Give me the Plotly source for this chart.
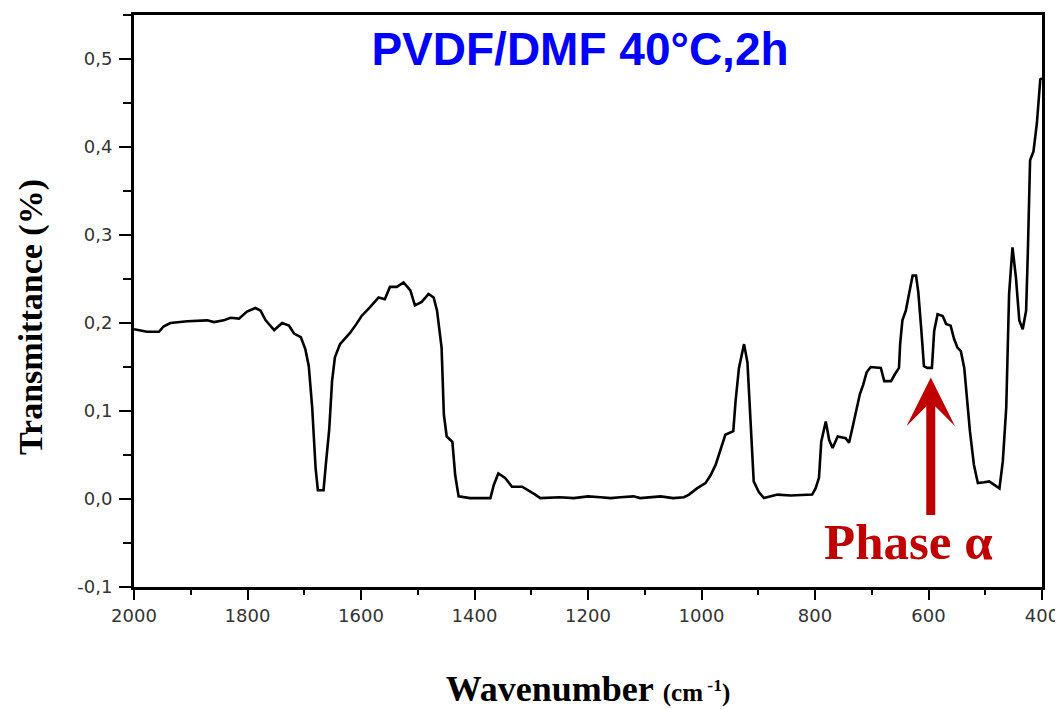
import plotly.graph_objects as go

wavenumber = [
    2000, 1977, 1956, 1948, 1936, 1906, 1871, 1859, 1842, 1830,
    1815, 1801, 1786, 1777, 1768, 1753, 1739, 1727, 1718, 1706,
    1698, 1692, 1686, 1680, 1676, 1666, 1662, 1656, 1651, 1646,
    1637, 1631, 1619, 1608, 1599, 1584, 1569, 1558, 1549, 1537,
    1525, 1513, 1505, 1493, 1481, 1472, 1466, 1458, 1454, 1449,
    1439, 1434, 1428, 1408, 1372, 1366, 1358, 1346, 1334, 1316,
    1305, 1293, 1284, 1250, 1225, 1200, 1178, 1160, 1143, 1120,
    1108, 1080, 1072, 1050, 1031, 1022, 1008, 993, 984, 975,
    966, 958, 944, 940, 934, 928, 925, 919, 913, 908,
    899, 890, 866, 843, 805, 799, 793, 789, 781, 775,
    769, 760, 746, 740, 734, 726, 721, 715, 709, 702,
    684, 678, 666, 659, 652, 650, 646, 640, 634, 628,
    622, 618, 613, 608, 602, 594, 590, 584, 575, 569,
    561, 555, 549, 543, 537, 532, 527, 520, 513, 502,
    493, 484, 475, 469, 463, 458, 452, 446, 440, 434,
    428, 425, 421, 415, 409, 403, 400,
]

transmittance = [
    0.193, 0.190, 0.190, 0.196, 0.200, 0.202, 0.203, 0.201, 0.203, 0.206,
    0.205, 0.213, 0.217, 0.214, 0.203, 0.192, 0.200, 0.197, 0.188, 0.184,
    0.170, 0.151, 0.104, 0.035, 0.010, 0.010, 0.039, 0.079, 0.134, 0.161,
    0.176, 0.180, 0.189, 0.199, 0.208, 0.218, 0.229, 0.227, 0.241, 0.241,
    0.246, 0.237, 0.220, 0.224, 0.233, 0.229, 0.214, 0.172, 0.096, 0.071,
    0.065, 0.027, 0.003, 0.001, 0.001, 0.016, 0.029, 0.024, 0.014, 0.014,
    0.010, 0.005, 0.001, 0.002, 0.001, 0.003, 0.002, 0.001, 0.002, 0.003,
    0.001, 0.002, 0.003, 0.001, 0.002, 0.005, 0.012, 0.018, 0.027, 0.039,
    0.058, 0.073, 0.077, 0.111, 0.149, 0.165, 0.176, 0.155, 0.077, 0.020,
    0.008, 0.001, 0.005, 0.004, 0.005, 0.012, 0.024, 0.065, 0.088, 0.067,
    0.058, 0.071, 0.069, 0.064, 0.081, 0.104, 0.119, 0.130, 0.144, 0.150,
    0.149, 0.134, 0.134, 0.142, 0.149, 0.176, 0.203, 0.214, 0.235, 0.254,
    0.254, 0.235, 0.195, 0.151, 0.149, 0.149, 0.191, 0.210, 0.208, 0.199,
    0.197, 0.182, 0.172, 0.168, 0.149, 0.111, 0.077, 0.039, 0.018, 0.019,
    0.020, 0.016, 0.012, 0.043, 0.104, 0.233, 0.286, 0.252, 0.203, 0.193,
    0.214, 0.279, 0.385, 0.395, 0.427, 0.477, 0.478,
]

x_tick_vals = [2000, 1800, 1600, 1400, 1200, 1000, 800, 600, 400]
x_tick_text = ["2000", "1800", "1600", "1400", "1200", "1000", "800", "600", "400"]
y_tick_vals = [-0.1, 0.0, 0.1, 0.2, 0.3, 0.4, 0.5]
y_tick_text = ["-0,1", "0,0", "0,1", "0,2", "0,3", "0,4", "0,5"]

title_text = "PVDF/DMF 40°C,2h"
y_title = "Transmittance (%)"
phase_label = "Phase α"
phase_x, phase_y = 635, -0.049
arrow_x, arrow_tip, arrow_tail = 596, 0.138, -0.020

fig = go.Figure()
fig.add_trace(go.Scatter(
    x=wavenumber, y=transmittance, mode="lines",
    line=dict(color="black", width=2.6), showlegend=False,
))

tick_font = dict(family="DejaVu Sans", size=18, color="#333333")
axis_common = dict(
    showline=True, linecolor="black", linewidth=3, mirror=True,
    showgrid=False, zeroline=False, ticks="outside", tickcolor="black",
    tickwidth=2, tickfont=tick_font,
)

fig.update_xaxes(
    range=[2000, 400], tickvals=x_tick_vals, ticktext=x_tick_text,
    ticklen=10,
    minor=dict(dtick=100, ticks="outside", ticklen=5, tickwidth=2, tickcolor="black"),
    title=dict(
        text="<b>Wavenumber</b> <b><span style='font-size:25px'>(cm<sup> -1</sup>)</span></b>",
        font=dict(family="Liberation Serif", size=36, color="black"),
        standoff=52,
    ),
    **axis_common,
)
fig.update_yaxes(
    range=[-0.1, 0.55], tickvals=y_tick_vals, ticktext=y_tick_text,
    ticklen=12, ticklabelstandoff=3,
    minor=dict(dtick=0.05, tick0=0, ticks="outside", ticklen=8, tickwidth=2, tickcolor="black"),
    **axis_common,
)

fig.add_annotation(
    x=-0.1134, y=0.472, xref="paper", yref="paper",
    text="<b>" + y_title + "</b>", textangle=-90, showarrow=False,
    font=dict(family="Liberation Serif", size=34, color="black"),
    xanchor="center", yanchor="middle",
)
fig.add_annotation(
    x=arrow_x, y=arrow_tip, ax=arrow_x, ay=arrow_tail,
    xref="x", yref="y", axref="x", ayref="y",
    showarrow=True, arrowhead=3, arrowsize=0.9, arrowwidth=9,
    arrowcolor="#C00000", standoff=0, text="",
)
fig.add_annotation(
    x=phase_x, y=phase_y, xref="x", yref="y", text="<b>" + phase_label + "</b>",
    showarrow=False, font=dict(family="Liberation Serif", size=51, color="#C00000"),
    xanchor="center", yanchor="middle",
)

# the page body adds an 8px offset, so margins are set to place the plot
# area at the same screen position as in the reference
fig.update_layout(
    width=1063, height=709,
    margin=dict(l=126, r=29, t=7, b=130, autoexpand=False),
    paper_bgcolor="white", plot_bgcolor="white",
    title=dict(
        text="<b>" + title_text + "</b>",
        font=dict(family="Liberation Sans", size=46, color="#0000FF"),
        x=572 / 1063, y=1 - 41 / 709, xanchor="center", yanchor="middle",
        xref="container", yref="container",
    ),
)

fig.write_html("out.html")
